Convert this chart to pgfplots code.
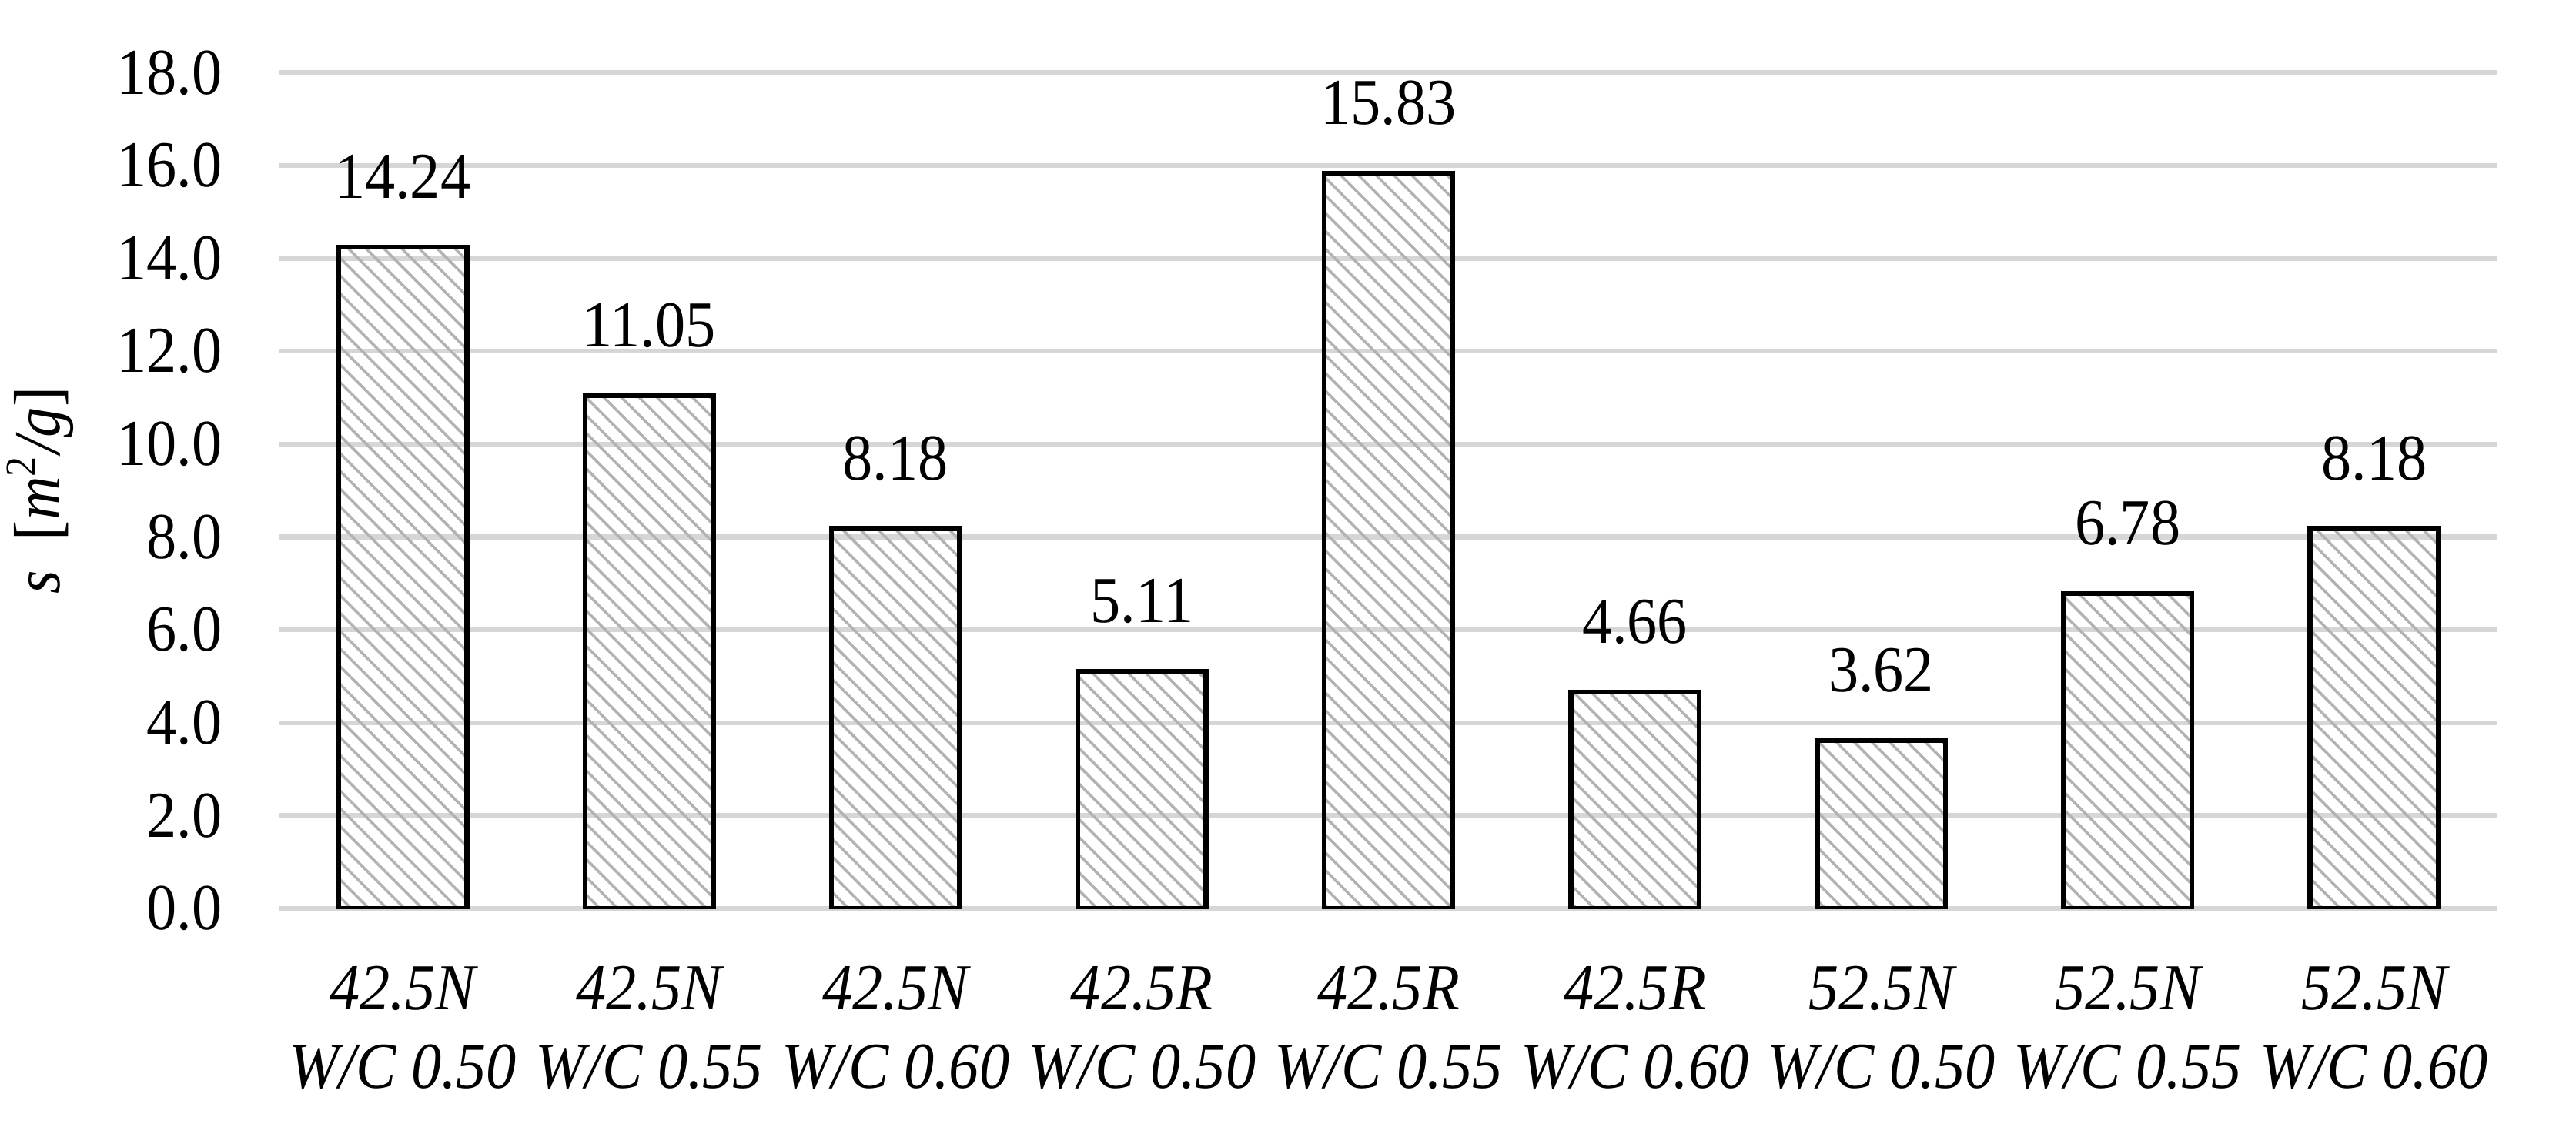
\documentclass[border=0pt]{standalone}
\usepackage{fontspec}
\setmainfont{Liberation Serif}[FakeStretch=0.92]
\usepackage{pgfplots}
\pgfplotsset{compat=1.18}
\usetikzlibrary{patterns.meta}

\begin{document}
\begin{tikzpicture}
\begin{axis}[
    width=406.2pt, height=153.1pt,
    scale only axis,
    ybar,
    bar width=0.52,
    xmin=-0.5, xmax=8.5,
    ymin=0, ymax=18,
    xtick={0,...,8},
    xticklabels={{42.5N\\W/C 0.50},{42.5N\\W/C 0.55},{42.5N\\W/C 0.60},
                 {42.5R\\W/C 0.50},{42.5R\\W/C 0.55},{42.5R\\W/C 0.60},
                 {52.5N\\W/C 0.50},{52.5N\\W/C 0.55},{52.5N\\W/C 0.60}},
    xticklabel style={font=\fontsize{12}{14.4}\selectfont\itshape, align=center, yshift=-7pt},
    ytick={0,2,...,18},
    yticklabel style={font=\fontsize{12}{14.4}\selectfont, xshift=-7pt},
    /pgf/number format/assume math mode=true,
    yticklabel={\pgfmathprintnumber[fixed,fixed zerofill,precision=1]{\tick}},
    axis line style={draw=none},
    major tick length=0pt,
    ymajorgrids,
    grid style={line width=0.9pt, color=black!16},
    ylabel={\textit{s}\ \ [\textit{m}\textsuperscript{2}\textit{/g}]},
    ylabel style={font=\fontsize{12}{14.4}\selectfont, at={(axis description cs:-0.108,0.5)}, anchor=center, rotate=0},
    nodes near coords,
    nodes near coords style={font=\fontsize{12}{14.4}\selectfont, yshift=5pt,
        /pgf/number format/.cd, fixed, fixed zerofill, precision=2, assume math mode=true},
]
\addplot[draw=black, line width=0.9pt,
    pattern={Lines[angle=-45, distance=2.3pt, line width=0.5pt]},
    pattern color=black!30] coordinates {
    (0,14.24) (1,11.05) (2,8.18) (3,5.11) (4,15.83)
    (5,4.66) (6,3.62) (7,6.78) (8,8.18)
};
\end{axis}
\pgfresetboundingbox
\path (-51.2pt,-43.0pt) rectangle (420.6pt,166.4pt);
\end{tikzpicture}
\end{document}
